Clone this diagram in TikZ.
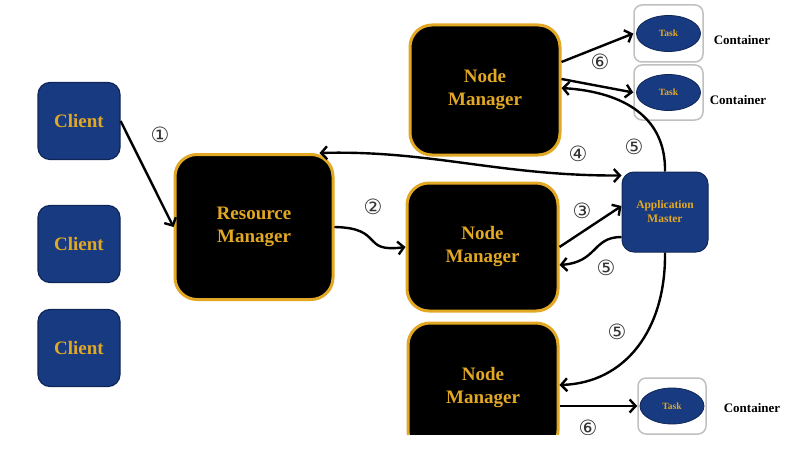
\documentclass[tikz,border=0pt]{standalone}
\usepackage{fontspec}
\setmainfont{Liberation Serif}
\newfontfamily\circfont{DejaVu Sans}
\usetikzlibrary{arrows.meta,shapes.geometric}
\definecolor{cliblue}{RGB}{24,58,128}
\definecolor{cliedge}{RGB}{16,38,88}
\definecolor{gold}{RGB}{226,168,36}
\definecolor{boxgray}{RGB}{192,192,192}

\begin{document}
\begin{tikzpicture}[x=1pt, y=-1pt,
    client/.style={rectangle, rounded corners=12pt, fill=cliblue, draw=cliedge, line width=1.2pt, text=gold, minimum width=82pt, minimum height=77pt, font=\bfseries\fontsize{19}{23}\selectfont},
    mgr/.style={rectangle, rounded corners=22pt, fill=black, draw=gold, line width=3pt, text=gold, minimum width=150pt, minimum height=130pt, align=center, font=\bfseries\fontsize{19}{23}\selectfont},
    appm/.style={rectangle, rounded corners=12pt, fill=cliblue, draw=cliedge, line width=1pt, text=gold, minimum width=86pt, minimum height=80pt, align=center, font=\bfseries\fontsize{11.5}{14}\selectfont},
    cont/.style={rectangle, rounded corners=8pt, fill=white, draw=boxgray, line width=1.5pt, minimum width=69pt, minimum height=56pt},
    task/.style={ellipse, fill=cliblue, draw=cliedge, line width=0.8pt, text=gold, minimum width=64pt, minimum height=36pt, inner sep=0pt, font=\bfseries\fontsize{9.5}{11}\selectfont},
    lbl/.style={font=\bfseries\fontsize{13}{15}\selectfont},
    num/.style={text=black!80, font=\circfont\fontsize{21}{23}\selectfont},
    arr/.style={-{Straight Barb[length=6pt,width=13pt]}, line width=2.4pt},
    arrs/.style={{Straight Barb[length=6pt,width=13pt]}-{Straight Barb[length=6pt,width=13pt]}, line width=2.4pt}
]
\useasboundingbox (0,0) rectangle (798,452);
\clip (0,0) rectangle (798,434);

% clients
\node[client] (cl1) at (79,121) {Client};
\node[client] (cl2) at (79,244) {Client};
\node[client] (cl3) at (79,348) {Client};

% managers
\node[mgr, minimum width=158pt, minimum height=145pt] (rm) at (254,227) {Resource\\Manager};
\node[mgr] (nm1) at (485,90) {Node\\Manager};
\node[mgr, minimum width=151pt, minimum height=128pt] (nm2) at (482.5,247) {Node\\Manager};
\node[mgr] (nm3) at (483,388) {Node\\Manager};
\node[appm] (am) at (665,212) {Application\\Master};

% containers
\node[cont, minimum height=57pt] (ct1) at (668.5,33.5) {};
\node[cont, minimum height=55pt] (ct2) at (668.5,92.5) {};
\node[cont, minimum width=68pt] (ct3) at (672,406) {};
\node[task] (tk1) at (ct1) {Task};
\node[task] (tk2) at (ct2) {Task};
\node[task] (tk3) at (ct3) {Task};
\node[lbl] (lb1) at (742,40) {Container};
\node[lbl] (lb2) at (738,100) {Container};
\node[lbl] (lb3) at (752,408) {Container};

% connectors
\draw[arr] (cl1.east) -- (rm.west);
\draw[arrs] ([xshift=-15pt]rm.north east) .. controls (430,150) and (500,176) .. ([yshift=-4pt]am.north west);
\draw[arr] (rm.east) .. controls (385,228) and (360,253) .. (nm2.west);
\draw[arr] (nm2.east) -- ([yshift=6pt]am.west);
\draw[arr] ([yshift=-25pt]am.west) .. controls (592,237) and (598,262) .. ([yshift=-18pt]nm2.east);
\draw[arr] (am.north) .. controls (666,118) and (625,92) .. ([yshift=2pt]nm1.east);
\draw[arr] (am.south) .. controls (666,330) and (625,383) .. ([yshift=3pt]nm3.east);
\draw[arr] ([yshift=28pt]nm1.east) -- (ct1.west);
\draw[arr] ([yshift=11pt]nm1.east) -- (ct2.west);
\draw[arr] ([yshift=-18pt]nm3.east) -- (ct3.west);

% step numbers
\node[num] (n1) at (160,135) {①};
\node[num] (n2) at (373,207) {②};
\node[num] (n3) at (582,211) {③};
\node[num] (n4) at (578,154) {④};
\node[num] (n5a) at (634,147) {⑤};
\node[num] (n5b) at (606,268) {⑤};
\node[num] (n5c) at (617,332) {⑤};
\node[num] (n6a) at (600,62) {⑥};
\node[num] (n6b) at (588,428) {⑥};
\end{tikzpicture}
\end{document}
